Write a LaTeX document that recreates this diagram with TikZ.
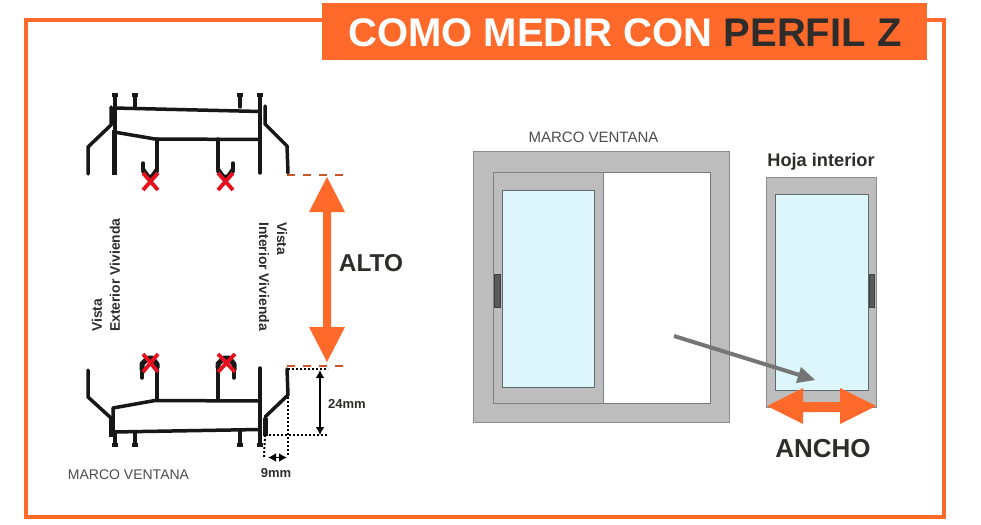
\documentclass[tikz,border=0pt]{standalone}
\usepackage{fontspec}
\setmainfont{Liberation Sans}
\usetikzlibrary{arrows.meta}
\definecolor{brand}{HTML}{FF6A2B}
\definecolor{ink}{HTML}{2F2D2C}
\definecolor{frame}{HTML}{BDBDBD}
\definecolor{edgegray}{HTML}{8C8C8C}
\definecolor{glass}{HTML}{DCF6FB}
\definecolor{glassedge}{HTML}{5F6A6A}
\definecolor{handle}{HTML}{5A5A5A}
\definecolor{prof}{HTML}{171717}
\definecolor{cross}{HTML}{E60F1E}
\definecolor{dashbrown}{HTML}{C9552D}
\definecolor{pointer}{HTML}{757575}
\tikzset{
  profline/.style={draw=prof,line width=3.5pt,line cap=round,line join=round},
  profthick/.style={draw=prof,line width=5pt},
  clawband/.style={draw=prof,line width=5pt,line join=round},
  crossmark/.style={draw=cross,line width=3.8pt},
  guide/.style={draw=dashbrown,line width=1.8pt,dash pattern=on 8pt off 8pt},
  dots/.style={draw=black,line width=2pt,dash pattern=on 2pt off 2pt},
  dimline/.style={draw=black,line width=1.8pt,{Latex[length=8pt,width=9pt]}-{Latex[length=8pt,width=9pt]}},
  framebox/.style={fill=frame,draw=edgegray,line width=.9pt},
  sash/.style={fill=frame,draw=glassedge!70!frame,line width=1pt},
  pane/.style={fill=glass,draw=glassedge,line width=1pt},
  grip/.style={fill=handle,draw=handle!70!black,line width=.6pt},
  smalltxt/.style={font=\fontsize{14}{16}\selectfont,text=ink!85!white,inner sep=0pt},
  sidetxt/.style={font=\fontsize{13.9}{16}\selectfont\bfseries,text=ink,inner sep=0pt,anchor=east},
  sidetxtr/.style={font=\fontsize{13.9}{16}\selectfont\bfseries,text=ink,inner sep=0pt,anchor=west},
  bigtxt/.style={font=\fontsize{24.4}{26}\selectfont\bfseries,text=ink,inner sep=0pt},
  dimtxt/.style={font=\fontsize{13}{15}\selectfont\bfseries,text=ink,inner sep=0pt}
}
\begin{document}
\begin{tikzpicture}[x=1pt,y=-1pt]
\useasboundingbox (0,0) rectangle (981,524);
\fill[white] (0,0) rectangle (981,524);
% outer border and title
\draw[brand,line width=4pt] (26,20) rectangle (944,517);
\fill[brand] (322,3) rectangle (927,60);
\node[anchor=base west,inner sep=0pt,font=\fontsize{40}{44}\selectfont\bfseries,text=white] (title) at (348,47) {COMO MEDIR CON \textcolor{ink}{PERFIL Z}};

% top profile
\draw[profline] (115,95) -- (115,130);
\draw[profthick] (114,130) -- (114,175);
\draw[profline] (135,95) -- (135,107);
\draw[profline] (240,95) -- (240,107);
\draw[profline] (260,95) -- (260,173);
\draw[profline] (114,108) -- (260,111.5);
\draw[profline] (114,132) -- (155,139) -- (260,139.5);
\draw[profline] (111,107) -- (111,125) -- (88,147) -- (88,174);
\draw[profline] (265,106) -- (265,124) -- (287,146) -- (288,173);
\draw[profline] (157,139) -- (157,170);
\draw[profline] (218,139) -- (218,170);
\draw[profline] (143,163) -- (143,170);
\draw[profline] (233,163) -- (233,170);
\draw[clawband] (143,170) -- (148,177) -- (152,177) -- (157,170);
\draw[clawband] (218,170) -- (223,177) -- (228,177) -- (233,170);
\foreach \p in {115,135,240,260}{\fill[prof] (\p-3,93) rectangle (\p+3,97);}
\draw[crossmark] (143,173) -- (158,190) (158,173) -- (143,190);
\draw[crossmark] (218,173) -- (233,190) (233,173) -- (218,190);

% bottom profile
\draw[profline] (115,432) -- (115,445);
\draw[profline] (135,432) -- (135,445);
\draw[profline] (240,430) -- (240,445);
\draw[profline] (260,368) -- (260,445);
\draw[profline] (113,408) -- (113,432) -- (260,429.5);
\draw[profline] (113,408) -- (155,400.5) -- (260,401);
\draw[profthick] (111,418) -- (111,437);
\draw[profthick] (265,418) -- (265,436);
\draw[profline] (88,370) -- (88,397) -- (111,418);
\draw[profline] (287,369) -- (288,395) -- (265,417);
\draw[profline] (157,400) -- (157,366);
\draw[profline] (218,400) -- (218,366);
\draw[profline] (142,370) -- (142,378);
\draw[profline] (234,370) -- (234,378);
\draw[clawband] (157,368) -- (157,364) -- (152,358) -- (148,358) -- (142,364) -- (142,370);
\draw[clawband] (218,368) -- (218,364) -- (224,358) -- (229,358) -- (234,364) -- (234,370);
\foreach \p in {115,135,240,260}{\fill[prof] (\p-3,443) rectangle (\p+3,447);}
\draw[crossmark] (143,354) -- (158,372) (158,354) -- (143,372);
\draw[crossmark] (218,354) -- (235,372) (235,354) -- (218,372);

% dashed guides
\coordinate (g1a) at (287,175); \coordinate (g1b) at (345,175);
\coordinate (g2a) at (287,366); \coordinate (g2b) at (345,366);
\draw[guide] (g1a) -- (g1b);
\draw[guide] (g2a) -- (g2b);

% dimension dots
\coordinate (d1) at (288,369); \coordinate (d2) at (328,369);
\coordinate (d3) at (265,435); \coordinate (d4) at (328,435);
\coordinate (d5) at (288,456); \coordinate (d6) at (264,457);
\draw[dots] (d1) -- (d2);
\draw[dots] (d3) -- (d4);
\draw[dots] (288,397) -- (d5);
\draw[dots] (d3) -- (d6);
\coordinate (a1) at (320,370); \coordinate (a2) at (320,435);
\draw[dimline] (a1) -- (a2);
\coordinate (b1) at (268,457.5); \coordinate (b2) at (287,457.5);
\draw[dimline] (b1) -- (b2);
\node[dimtxt] (mm24) at (347,404) {24mm};
\node[dimtxt] (mm9) at (276,473) {9mm};
\node[smalltxt] (marcoL) at (128.5,474.5) {MARCO VENTANA};

% side labels
\node[sidetxt,rotate=90,anchor=west] (vistaL) at (97,332) {Vista};
\node[sidetxt,rotate=90,anchor=west] (extL) at (115,332) {Exterior Vivienda};
\node[sidetxtr,rotate=-90] (vistaR) at (282,222) {Vista};
\node[sidetxtr,rotate=-90] (intR) at (264,222) {Interior Vivienda};

% ALTO arrow
\fill[brand] (327,177) -- (345,212) -- (331,212) -- (331,327) -- (345,327) -- (327,362) -- (309,327) -- (323,327) -- (323,212) -- (309,212) -- cycle;
\node[bigtxt] (alto) at (371,263.5) {ALTO};

% window
\node[smalltxt,font=\fontsize{15}{17}\selectfont] (marcoR) at (593.5,137) {MARCO VENTANA};
\draw[framebox] (473,151) rectangle (729,422);
\fill[white] (603,172) rectangle (710,403);
\draw[glassedge!80!frame,line width=1pt] (603,172) -- (710,172) -- (710,403) -- (603,403);
\draw[sash] (493,172) rectangle (603,403);
\draw[pane] (502,190) rectangle (594,387);
\draw[grip] (494.5,274) rectangle (500,307);

% loose sash
\node[font=\fontsize{18.2}{20}\selectfont\bfseries,text=ink,inner sep=0pt] (hoja) at (821,161.5) {Hoja interior};
\draw[framebox] (766,177) rectangle (876,407);
\draw[pane] (775,194) rectangle (868,390);
\draw[grip] (869,274) rectangle (874,307);

% pointer arrow
\coordinate (p1) at (674,336); \coordinate (p2) at (806,377);
\draw[pointer,line width=4pt] (p1) -- (p2);
\fill[pointer] (815,380) -- (801,367) -- (796,383) -- cycle;

% ANCHO arrow
\fill[brand] (767,406) -- (803,388) -- (803,402) -- (840,402) -- (840,388) -- (876,406) -- (840,424) -- (840,412) -- (803,412) -- (803,424) -- cycle;
\node[bigtxt,font=\fontsize{26}{28}\selectfont\bfseries] (ancho) at (823,448.5) {ANCHO};
\end{tikzpicture}
\end{document}
